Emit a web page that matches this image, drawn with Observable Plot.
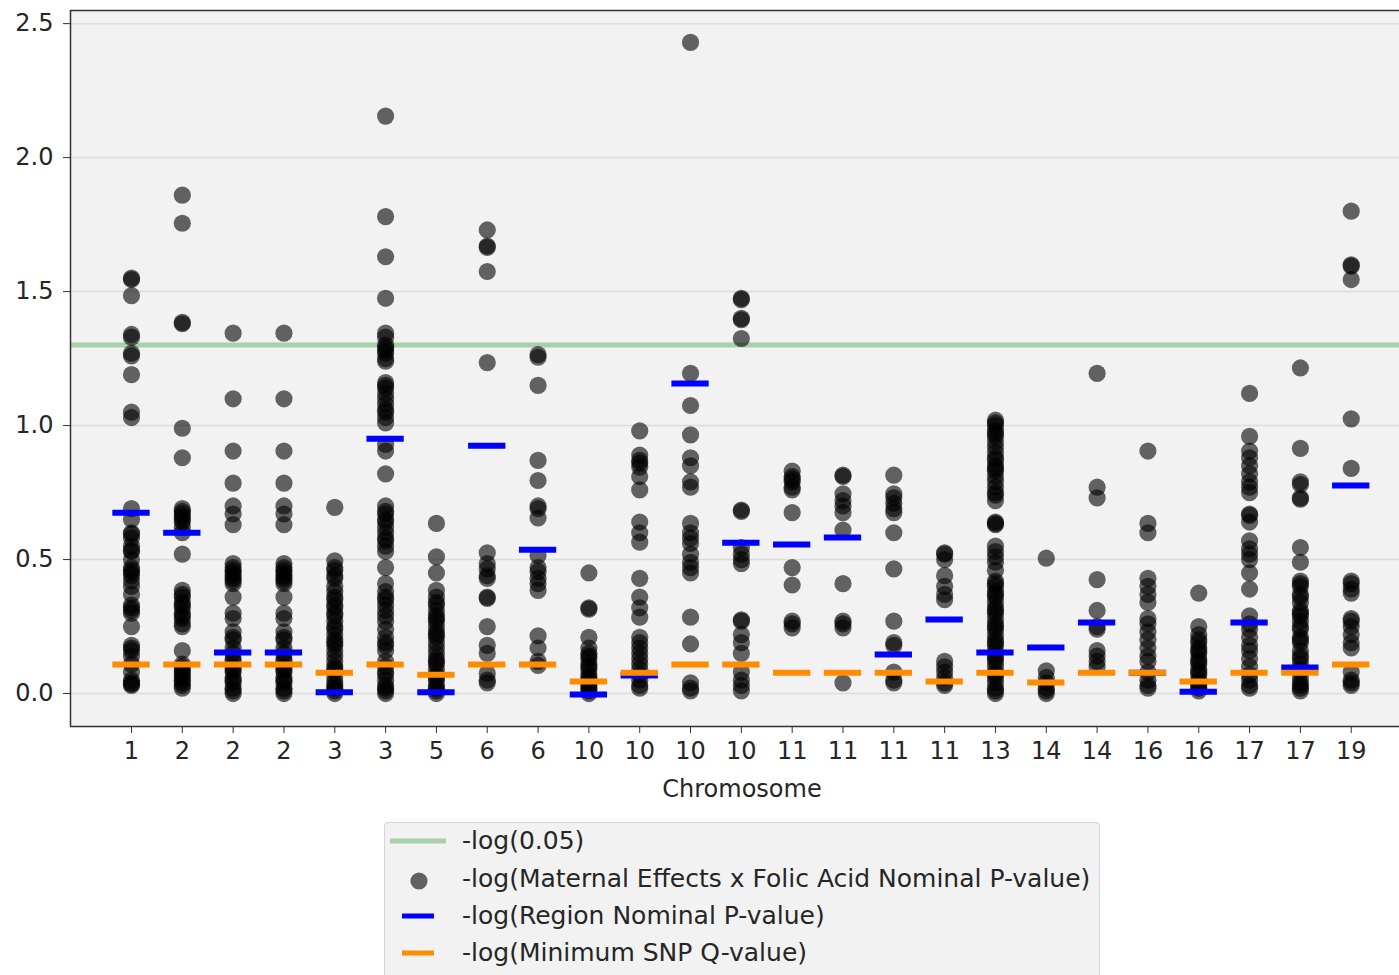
<!DOCTYPE html>
<html>
<head>
<meta charset="utf-8">
<script src="https://cdn.jsdelivr.net/npm/d3@7"></script>
<script src="https://cdn.jsdelivr.net/npm/@observablehq/plot@0.6"></script>
<style>
  html, body { margin: 0; padding: 0; background: #ffffff; }
  #wrap { position: relative; width: 1399px; height: 975px; overflow: hidden; font-family: "DejaVu Sans", sans-serif; color: #262626; }
  #chart svg { display: block; }
  #legend { position: absolute; left: 384px; top: 822px; width: 716px; height: 175px; background: #f2f2f2; border: 1.5px solid #d4d4d4; border-radius: 4px; box-sizing: border-box; }
  .row { position: absolute; left: 0; height: 36px; width: 714px; }
  .row svg { position: absolute; left: 0; top: 0; }
  .row span { position: absolute; left: 77px; top: 0; line-height: 36px; font-size: 25px; white-space: nowrap; }
</style>
</head>
<body>
<div id="wrap">
  <div id="chart"></div>
  <div id="legend"></div>
</div>
<script>
// ---- data ----
const chromosomes = ["1","2","2","2","3","3","5","6","6","10","10","10","10","11","11","11","11","13","14","14","16","16","17","17","19"];

// -log(Maternal Effects x Folic Acid Nominal P-value), one list per region
const snpLogP = [
  [1.55,1.545,1.485,1.34,1.33,1.27,1.26,1.19,1.05,1.03,0.69,0.65,0.60,0.595,0.58,0.55,0.535,0.53,0.50,0.47,0.46,0.45,0.44,0.42,0.40,0.37,0.33,0.32,0.31,0.30,0.25,0.18,0.17,0.16,0.14,0.11,0.08,0.05,0.04,0.035,0.03],
  [1.86,1.755,1.385,1.38,0.99,0.88,0.69,0.68,0.67,0.66,0.65,0.64,0.62,0.60,0.52,0.385,0.37,0.36,0.34,0.33,0.32,0.30,0.29,0.28,0.26,0.25,0.16,0.11,0.10,0.09,0.08,0.07,0.06,0.05,0.04,0.03,0.02],
  [1.345,1.10,0.905,0.785,0.70,0.67,0.63,0.485,0.47,0.46,0.45,0.44,0.43,0.42,0.41,0.36,0.30,0.28,0.23,0.21,0.20,0.17,0.15,0.13,0.12,0.10,0.09,0.08,0.06,0.05,0.04,0.02,0.01,0.0],
  [1.345,1.10,0.905,0.785,0.70,0.67,0.63,0.485,0.47,0.46,0.45,0.44,0.43,0.42,0.41,0.36,0.30,0.28,0.23,0.21,0.20,0.17,0.15,0.13,0.12,0.10,0.09,0.08,0.06,0.05,0.04,0.02,0.01,0.0],
  [0.695,0.495,0.47,0.46,0.44,0.43,0.40,0.38,0.36,0.35,0.33,0.32,0.30,0.29,0.27,0.25,0.24,0.22,0.20,0.19,0.18,0.16,0.14,0.12,0.10,0.09,0.08,0.06,0.04,0.03,0.02,0.01,0.0],
  [2.155,1.78,1.63,1.475,1.345,1.33,1.30,1.29,1.28,1.27,1.25,1.24,1.16,1.15,1.14,1.12,1.10,1.08,1.06,1.05,1.03,1.01,0.93,0.905,0.82,0.70,0.68,0.67,0.65,0.64,0.62,0.60,0.58,0.57,0.55,0.53,0.47,0.41,0.38,0.36,0.35,0.33,0.31,0.29,0.27,0.24,0.21,0.19,0.18,0.16,0.12,0.10,0.08,0.07,0.05,0.03,0.02,0.01,0.0],
  [0.635,0.51,0.45,0.385,0.36,0.34,0.33,0.31,0.29,0.28,0.27,0.25,0.23,0.22,0.21,0.19,0.17,0.15,0.13,0.12,0.11,0.09,0.07,0.06,0.05,0.03,0.02,0.01,0.0],
  [1.73,1.67,1.665,1.575,1.235,0.525,0.485,0.465,0.44,0.43,0.36,0.355,0.25,0.18,0.15,0.075,0.05,0.04],
  [1.265,1.255,1.15,0.87,0.795,0.70,0.69,0.655,0.515,0.47,0.455,0.43,0.41,0.385,0.215,0.17,0.12,0.105],
  [0.45,0.32,0.315,0.21,0.17,0.15,0.14,0.13,0.11,0.10,0.09,0.07,0.06,0.05,0.04,0.03,0.02,0.01,0.0],
  [0.98,0.89,0.87,0.86,0.845,0.81,0.76,0.64,0.60,0.565,0.43,0.36,0.32,0.285,0.21,0.19,0.17,0.15,0.13,0.11,0.09,0.07,0.05,0.03,0.02],
  [2.43,1.195,1.075,0.965,0.88,0.85,0.79,0.77,0.635,0.60,0.58,0.56,0.52,0.49,0.47,0.45,0.285,0.185,0.04,0.02,0.01],
  [1.475,1.47,1.40,1.395,1.325,0.685,0.68,0.545,0.52,0.50,0.485,0.275,0.27,0.22,0.19,0.15,0.08,0.05,0.03,0.01],
  [0.83,0.81,0.80,0.79,0.77,0.76,0.675,0.47,0.405,0.27,0.26,0.245],
  [0.815,0.81,0.745,0.72,0.70,0.675,0.61,0.41,0.27,0.26,0.245,0.04],
  [0.815,0.745,0.73,0.71,0.69,0.675,0.60,0.465,0.27,0.19,0.18,0.08,0.05,0.04],
  [0.525,0.52,0.50,0.44,0.40,0.37,0.35,0.12,0.10,0.08,0.06,0.04,0.03],
  [1.02,1.01,1.0,0.98,0.97,0.96,0.94,0.92,0.90,0.88,0.87,0.85,0.84,0.83,0.81,0.79,0.77,0.75,0.74,0.72,0.64,0.635,0.63,0.55,0.53,0.51,0.49,0.46,0.42,0.41,0.40,0.38,0.37,0.36,0.34,0.32,0.31,0.30,0.28,0.26,0.25,0.24,0.22,0.20,0.19,0.18,0.16,0.14,0.13,0.12,0.10,0.08,0.07,0.06,0.04,0.02,0.01,0.0],
  [0.505,0.085,0.06,0.04,0.02,0.01,0.0],
  [1.195,0.77,0.73,0.425,0.31,0.25,0.24,0.16,0.14,0.12,0.10],
  [0.905,0.635,0.60,0.43,0.40,0.37,0.34,0.28,0.26,0.23,0.20,0.17,0.14,0.12,0.08,0.05,0.03,0.02],
  [0.375,0.25,0.22,0.20,0.19,0.17,0.16,0.15,0.13,0.12,0.11,0.09,0.08,0.07,0.05,0.04,0.03,0.02,0.01],
  [1.12,0.96,0.905,0.88,0.85,0.82,0.79,0.77,0.75,0.67,0.665,0.64,0.57,0.54,0.52,0.50,0.45,0.39,0.29,0.26,0.24,0.21,0.18,0.16,0.13,0.10,0.07,0.05,0.03,0.02],
  [1.215,0.915,0.79,0.78,0.73,0.725,0.545,0.49,0.42,0.41,0.40,0.37,0.36,0.34,0.31,0.30,0.29,0.27,0.25,0.24,0.21,0.20,0.19,0.16,0.14,0.13,0.11,0.09,0.08,0.06,0.04,0.03,0.02,0.01],
  [1.80,1.60,1.595,1.545,1.025,0.84,0.42,0.41,0.39,0.375,0.28,0.27,0.25,0.22,0.19,0.17,0.08,0.05,0.04,0.03]
];

// -log(Region Nominal P-value)
const regionLogP = [0.675,0.60,0.153,0.153,0.005,0.951,0.005,0.925,0.537,-0.004,0.067,1.157,0.563,0.556,0.582,0.146,0.276,0.153,0.172,0.265,0.078,0.007,0.265,0.097,0.776];

// -log(Minimum SNP Q-value)
const minSnpLogQ = [0.108,0.108,0.108,0.108,0.078,0.108,0.070,0.108,0.108,0.045,0.078,0.108,0.108,0.078,0.078,0.078,0.045,0.078,0.041,0.078,0.078,0.045,0.078,0.078,0.108];

const threshold = [-Math.log10(0.05)];
const yTicks = [0, 0.5, 1.0, 1.5, 2.0, 2.5];
const xLabel = "Chromosome";
const legendLabels = [
  "-log(0.05)",
  "-log(Maternal Effects x Folic Acid Nominal P-value)",
  "-log(Region Nominal P-value)",
  "-log(Minimum SNP Q-value)"
];

// ---- build tables ----
const xDomain = [-1.2, 24.95];
const yDomain = [-0.123, 2.549];
const halfWidth = 0.367;
const points = snpLogP.flatMap((vals, i) => vals.map(v => ({i, v})));
const regions = regionLogP.map((v, i) => ({i, v}));
const minq = minSnpLogQ.map((v, i) => ({i, v}));

const chart = Plot.plot({
  width: 1399,
  height: 805,
  marginTop: 10,
  marginLeft: 70,
  marginRight: 0,
  marginBottom: 79,
  style: {fontFamily: "DejaVu Sans, sans-serif", fontSize: "24px", color: "#262626", background: "transparent", overflow: "visible"},
  x: {domain: xDomain},
  y: {domain: yDomain},
  marks: [
    Plot.frame({fill: "#f2f2f2", stroke: null}),
    Plot.gridY(yTicks, {stroke: "#dcdcdc", strokeOpacity: 1, strokeWidth: 1.5}),
    Plot.ruleY(threshold, {stroke: "green", strokeOpacity: 0.3, strokeWidth: 5}),
    Plot.dot(points, {x: "i", y: "v", r: 8.6, fill: "black", fillOpacity: 0.6, stroke: null}),
    Plot.ruleY(regions, {y: "v", x1: d => d.i - halfWidth, x2: d => d.i + halfWidth, stroke: "blue", strokeWidth: 6}),
    Plot.ruleY(minq, {y: "v", x1: d => d.i - halfWidth, x2: d => d.i + halfWidth, stroke: "darkorange", strokeWidth: 6}),
    Plot.ruleX([xDomain[0]], {stroke: "#333", strokeWidth: 1.5}),
    Plot.ruleY(yDomain, {stroke: "#333", strokeWidth: 1.5}),
    Plot.axisY({ticks: yTicks, tickFormat: d3.format(".1f"), tickSize: 7, tickPadding: 10, label: null, stroke: "#333"}),
    Plot.axisX({ticks: d3.range(chromosomes.length), tickFormat: i => chromosomes[i], tickSize: 7, tickPadding: 8, label: null, stroke: "#333"}),
    Plot.text([xLabel], {frameAnchor: "bottom", dy: 70, dx: 7, fontSize: 24, fill: "#262626"})
  ]
});
document.getElementById("chart").appendChild(chart);

// ---- legend ----
const legend = document.getElementById("legend");
const handles = [
  `<line x1="5" x2="61" y1="18" y2="18" stroke="green" stroke-opacity="0.3" stroke-width="5"/>`,
  `<circle cx="34" cy="20" r="8.6" fill="black" fill-opacity="0.6"/>`,
  `<line x1="17" x2="49" y1="18" y2="18" stroke="blue" stroke-width="5"/>`,
  `<line x1="17" x2="49" y1="18" y2="18" stroke="darkorange" stroke-width="5"/>`
];
const rowTops = [0, 38, 75, 112];
legendLabels.forEach((label, k) => {
  const row = document.createElement("div");
  row.className = "row";
  row.style.top = rowTops[k] + "px";
  row.innerHTML = `<svg width="70" height="36">${handles[k]}</svg><span>${label}</span>`;
  legend.appendChild(row);
});
</script>
</body>
</html>
